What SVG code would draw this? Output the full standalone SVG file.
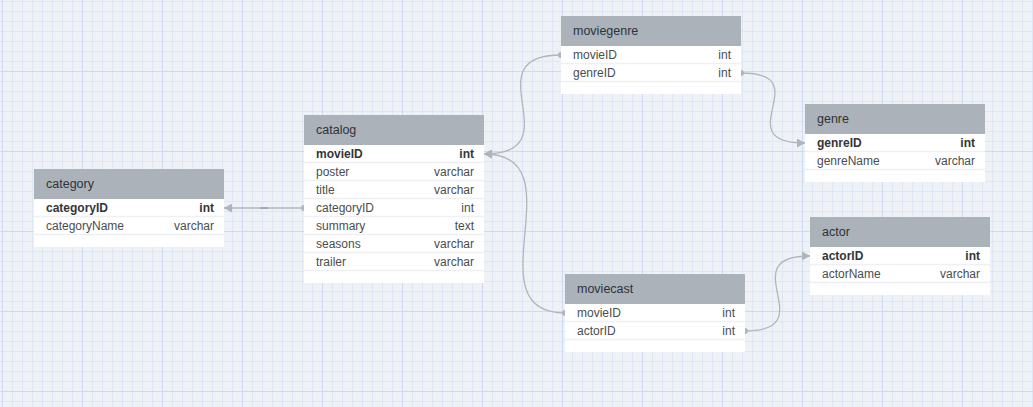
<svg xmlns="http://www.w3.org/2000/svg" width="1033" height="407" viewBox="0 0 1033 407">
<style>
.hdr{fill:#abb2b9}
.body{fill:#ffffff}
.sep{stroke:#eef0f3;stroke-width:1.5}
.title{font-family:"Liberation Sans",Arial,sans-serif;font-size:12.5px;fill:#2f3337}
.f{font-family:"Liberation Sans",Arial,sans-serif;font-size:12px;fill:#4a4d50}
.pk{font-weight:bold;fill:#333639}
.ty{text-anchor:end}
.conn{fill:none;stroke:#b1b6bc;stroke-width:1.3}
.dot{fill:#b1b6bc}
</style>
<defs>
<pattern id="grid" x="2" y="-9" width="80" height="80" patternUnits="userSpaceOnUse">
<path d="M10.5 0V80M20.5 0V80M30.5 0V80M40.5 0V80M50.5 0V80M60.5 0V80M70.5 0V80M0 10.5H80M0 20.5H80M0 30.5H80M0 40.5H80M0 50.5H80M0 60.5H80M0 70.5H80" stroke="#dfe7f5" stroke-width="1" fill="none"/>
<path d="M0.5 0V80M0 0.5H80" stroke="#cddaf2" stroke-width="1" fill="none"/>
</pattern>
<marker id="arr" viewBox="0 0 8 9" refX="8" refY="4.5" markerWidth="8" markerHeight="9" markerUnits="userSpaceOnUse" orient="auto">
<path d="M0,0 L8,4.5 L0,9 z" fill="#aeb4bb"/>
</marker>
</defs>
<rect width="1033" height="407" fill="#eef1f6"/>
<rect width="1033" height="407" fill="url(#grid)"/>

<g id="connectors">
<path class="conn" d="M304,208 L224,208" marker-end="url(#arr)"/>
<rect x="260" y="207" width="8" height="2" fill="#a4aab1"/>
<circle class="dot" cx="304" cy="208" r="3"/>
<path class="conn" d="M561,55 C470,55 575,154 484,154" marker-end="url(#arr)"/>
<circle class="dot" cx="561" cy="55" r="3"/>
<path class="conn" d="M565,313 C470,313 580,154 484,154" marker-end="url(#arr)"/>
<circle class="dot" cx="565" cy="313" r="3"/>
<path class="conn" d="M741,73 C820,73 725,143 805,143" marker-end="url(#arr)"/>
<circle class="dot" cx="741" cy="73" r="3"/>
<path class="conn" d="M745,331 C825,331 730,256 810,256" marker-end="url(#arr)"/>
<circle class="dot" cx="745" cy="331" r="3"/>
</g>

<g id="category">
<rect class="body" x="34" y="169" width="190" height="78"/>
<rect class="hdr" x="34" y="169" width="190" height="30"/>
<line class="sep" x1="34" y1="216.5" x2="224" y2="216.5"/>
<line class="sep" x1="34" y1="234.5" x2="224" y2="234.5"/>
<text class="title" x="46" y="188">category</text>
<text class="f pk" x="46" y="211.5">categoryID</text><text class="f pk ty" x="214" y="211.5">int</text>
<text class="f" x="46" y="229.5">categoryName</text><text class="f ty" x="214" y="229.5">varchar</text>
</g>

<g id="catalog">
<rect class="body" x="304" y="115" width="180" height="168"/>
<rect class="hdr" x="304" y="115" width="180" height="30"/>
<line class="sep" x1="304" y1="162.5" x2="484" y2="162.5"/>
<line class="sep" x1="304" y1="180.5" x2="484" y2="180.5"/>
<line class="sep" x1="304" y1="198.5" x2="484" y2="198.5"/>
<line class="sep" x1="304" y1="216.5" x2="484" y2="216.5"/>
<line class="sep" x1="304" y1="234.5" x2="484" y2="234.5"/>
<line class="sep" x1="304" y1="252.5" x2="484" y2="252.5"/>
<line class="sep" x1="304" y1="270.5" x2="484" y2="270.5"/>
<text class="title" x="316" y="134">catalog</text>
<text class="f pk" x="316" y="157.5">movieID</text><text class="f pk ty" x="474" y="157.5">int</text>
<text class="f" x="316" y="175.5">poster</text><text class="f ty" x="474" y="175.5">varchar</text>
<text class="f" x="316" y="193.5">title</text><text class="f ty" x="474" y="193.5">varchar</text>
<text class="f" x="316" y="211.5">categoryID</text><text class="f ty" x="474" y="211.5">int</text>
<text class="f" x="316" y="229.5">summary</text><text class="f ty" x="474" y="229.5">text</text>
<text class="f" x="316" y="247.5">seasons</text><text class="f ty" x="474" y="247.5">varchar</text>
<text class="f" x="316" y="265.5">trailer</text><text class="f ty" x="474" y="265.5">varchar</text>
</g>

<g id="moviegenre">
<rect class="body" x="561" y="16" width="180" height="78"/>
<rect class="hdr" x="561" y="16" width="180" height="30"/>
<line class="sep" x1="561" y1="63.5" x2="741" y2="63.5"/>
<line class="sep" x1="561" y1="81.5" x2="741" y2="81.5"/>
<text class="title" x="573" y="35">moviegenre</text>
<text class="f" x="573" y="58.5">movieID</text><text class="f ty" x="731" y="58.5">int</text>
<text class="f" x="573" y="76.5">genreID</text><text class="f ty" x="731" y="76.5">int</text>
</g>

<g id="genre">
<rect class="body" x="805" y="104" width="180" height="78"/>
<rect class="hdr" x="805" y="104" width="180" height="30"/>
<line class="sep" x1="805" y1="151.5" x2="985" y2="151.5"/>
<line class="sep" x1="805" y1="169.5" x2="985" y2="169.5"/>
<text class="title" x="817" y="123">genre</text>
<text class="f pk" x="817" y="146.5">genreID</text><text class="f pk ty" x="975" y="146.5">int</text>
<text class="f" x="817" y="164.5">genreName</text><text class="f ty" x="975" y="164.5">varchar</text>
</g>

<g id="actor">
<rect class="body" x="810" y="217" width="180" height="78"/>
<rect class="hdr" x="810" y="217" width="180" height="30"/>
<line class="sep" x1="810" y1="264.5" x2="990" y2="264.5"/>
<line class="sep" x1="810" y1="282.5" x2="990" y2="282.5"/>
<text class="title" x="822" y="236">actor</text>
<text class="f pk" x="822" y="259.5">actorID</text><text class="f pk ty" x="980" y="259.5">int</text>
<text class="f" x="822" y="277.5">actorName</text><text class="f ty" x="980" y="277.5">varchar</text>
</g>

<g id="moviecast">
<rect class="body" x="565" y="274" width="180" height="78"/>
<rect class="hdr" x="565" y="274" width="180" height="30"/>
<line class="sep" x1="565" y1="321.5" x2="745" y2="321.5"/>
<line class="sep" x1="565" y1="339.5" x2="745" y2="339.5"/>
<text class="title" x="577" y="293">moviecast</text>
<text class="f" x="577" y="316.5">movieID</text><text class="f ty" x="735" y="316.5">int</text>
<text class="f" x="577" y="334.5">actorID</text><text class="f ty" x="735" y="334.5">int</text>
</g>
</svg>
